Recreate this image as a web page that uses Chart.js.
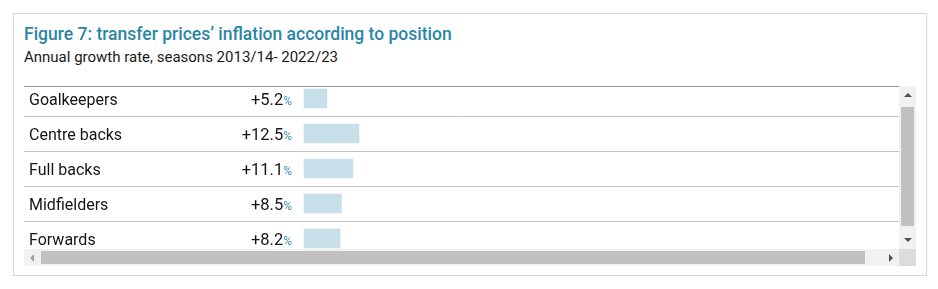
<!DOCTYPE html>
<html>
<head>
<meta charset="utf-8">
<script src="https://cdn.jsdelivr.net/npm/chart.js@4.4.0/dist/chart.umd.min.js"></script>
<style>
  body { margin: 0; background: #fff; font-family: Roboto, "Noto Sans", sans-serif; }
  #box { position: absolute; left: 13px; top: 13px; width: 912px; height: 261px; border: 1px solid #d6d6d6; }
  #title { position: absolute; left: 24px; top: 24px; font-size: 17.5px; font-weight: 500; color: #2b86a6; white-space: nowrap; }
  #sub { position: absolute; left: 24px; top: 48px; font-size: 15px; color: #1a1a1a; white-space: nowrap; }
  #topline { position: absolute; left: 24px; top: 86px; width: 875px; height: 1px; background: #9a9a9a; }
  #clip { position: absolute; left: 24px; top: 87px; width: 875px; height: 162px; overflow: hidden; }
  #clip canvas { position: absolute; left: 0; top: -6px; }
  .track { position: absolute; background: #f1f1f1; }
  .thumb { position: absolute; background: #c1c1c1; }
  .arr { position: absolute; width: 0; height: 0; }
</style>
</head>
<body>
<div id="box"></div>
<div id="title">Figure 7: transfer prices’ inflation according to position</div>
<div id="sub">Annual growth rate, seasons 2013/14- 2022/23</div>
<div id="topline"></div>
<div id="clip"><canvas id="myChart" width="875" height="175"></canvas></div>

<!-- scrollbars -->
<div class="track" style="left:899px;top:86px;width:17px;height:163px"></div>
<div class="thumb" style="left:901px;top:107px;width:13px;height:119px"></div>
<div class="arr" style="left:904px;top:93px;border-left:4px solid transparent;border-right:4px solid transparent;border-bottom:4px solid #505050"></div>
<div class="arr" style="left:904px;top:238px;border-left:4px solid transparent;border-right:4px solid transparent;border-top:4px solid #505050"></div>
<div class="track" style="left:24px;top:249px;width:875px;height:17px"></div>
<div class="thumb" style="left:41px;top:251px;width:824px;height:13px"></div>
<div class="arr" style="left:30px;top:254px;border-top:4px solid transparent;border-bottom:4px solid transparent;border-right:4px solid #a3a3a3"></div>
<div class="arr" style="left:889px;top:254px;border-top:4px solid transparent;border-bottom:4px solid transparent;border-left:4px solid #505050"></div>
<div class="track" style="left:899px;top:249px;width:17px;height:17px;background:#dcdcdc"></div>

<script>
// datos
var positions = ['Goalkeepers', 'Centre backs', 'Full backs', 'Midfielders', 'Forwards'];
var growth = [5.2, 12.5, 11.1, 8.5, 8.2];

// escala: el 0 cae en x=280 del canvas, 4.4px por punto
var pxPerUnit = 4.4;
var zeroX = 280;
var canvasW = 875;

// etiquetas y valores de cada fila
var rowText = {
  id: 'rowText',
  afterDatasetsDraw: (chart) => {
    var ctx = chart.ctx;
    var y = chart.scales.y;
    ctx.save();
    ctx.textBaseline = 'middle';
    positions.forEach((name, i) => {
      var py = y.getPixelForValue(i) + 2;
      ctx.font = '16px Roboto';
      ctx.fillStyle = '#151515';
      ctx.textAlign = 'left';
      ctx.fillText(name, 5, py);
      ctx.font = '12px Roboto';
      var pctW = ctx.measureText('%').width;
      ctx.fillStyle = '#3f93bd';
      ctx.textAlign = 'right';
      ctx.fillText('%', 268, py + 1);
      ctx.font = '16.5px Roboto';
      ctx.fillStyle = '#151515';
      ctx.fillText('+' + growth[i].toFixed(1), 268 - pctW, py);
    });
    ctx.restore();
  }
};

var ctx = document.getElementById('myChart').getContext('2d');
var chart = new Chart(ctx, {
  type: 'bar',
  data: {
    labels: positions,
    datasets: [{
      data: growth,
      backgroundColor: '#c6dfe8',
      barThickness: 19
    }]
  },
  options: {
    indexAxis: 'y',
    responsive: false,
    animation: false,
    layout: { padding: 0 },
    plugins: { legend: { display: false }, tooltip: { enabled: false } },
    scales: {
      x: {
        display: false,
        min: -zeroX / pxPerUnit,
        max: (canvasW - zeroX) / pxPerUnit
      },
      y: {
        offset: true,
        border: { display: false },
        ticks: { display: false },
        grid: { offset: true, color: '#c4c4c4', drawTicks: false },
        afterFit: (s) => { s.width = 0; }
      }
    }
  },
  plugins: [rowText]
});
</script>
</body>
</html>
